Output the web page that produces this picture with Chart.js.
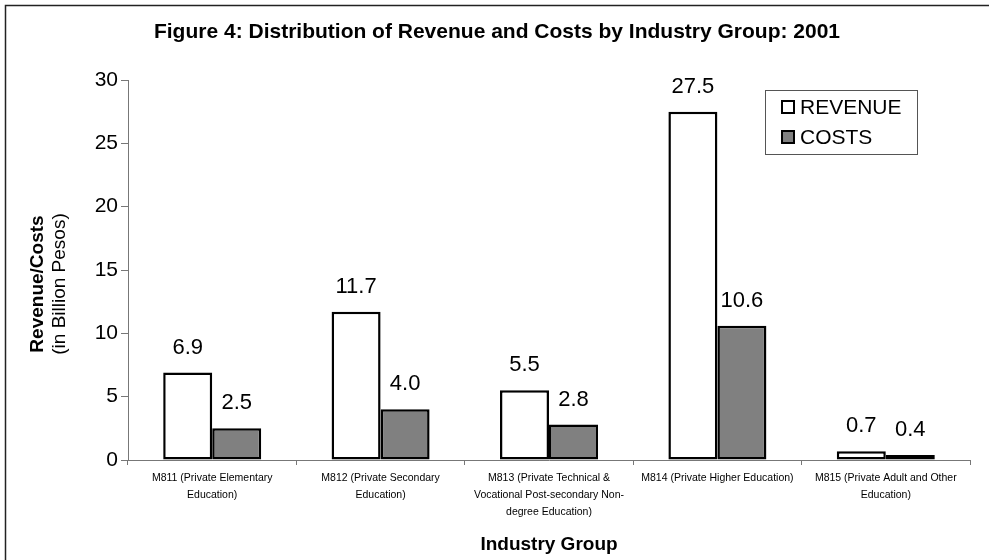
<!DOCTYPE html>
<html>
<head>
<meta charset="utf-8">
<script src="https://cdn.jsdelivr.net/npm/chart.js@4.4.0/dist/chart.umd.min.js"></script>
<style>
  html, body { margin: 0; padding: 0; background: #fff; overflow: hidden; }
  #wrap { position: relative; width: 989px; height: 560px; }
</style>
</head>
<body>
<div id="wrap"><canvas id="chart" width="989" height="560"></canvas></div>
<script>
  const categories = [
    ['M811 (Private Elementary', 'Education)'],
    ['M812 (Private Secondary', 'Education)'],
    ['M813 (Private Technical &', 'Vocational Post-secondary Non-', 'degree Education)'],
    ['M814 (Private Higher Education)'],
    ['M815 (Private Adult and Other', 'Education)'],
  ];
  const revenue = [6.9, 11.7, 5.5, 27.5, 0.7];
  const costs = [2.5, 4.0, 2.8, 10.6, 0.4];
  const seriesNames = ['REVENUE', 'COSTS'];
  const yMin = 0;
  const yMax = 30;
  const yStep = 5;

  const titleText = 'Figure 4: Distribution of Revenue and Costs by Industry Group: 2001';
  const xTitle = 'Industry Group';
  const yTitle = ['Revenue/Costs', '(in Billion Pesos)'];

  // outer frame, titles, value labels and legend
  const decorations = {
    id: 'decorations',
    beforeDraw(chart) {
      const ctx = chart.ctx;
      ctx.save();
      ctx.fillStyle = '#fff';
      ctx.fillRect(0, 0, chart.width, chart.height);
      ctx.strokeStyle = '#222';
      ctx.lineWidth = 1.5;
      ctx.strokeRect(5.5, 5.5, 1200, 1200);
      ctx.restore();
    },
    afterDraw(chart) {
      const ctx = chart.ctx;
      const area = chart.chartArea;
      ctx.save();
      ctx.fillStyle = '#000';
      ctx.textAlign = 'center';
      ctx.textBaseline = 'middle';

      ctx.font = 'bold 21px Arial, "Liberation Sans", sans-serif';
      ctx.fillText(titleText, 497, 32);

      ctx.font = 'bold 19px Arial, "Liberation Sans", sans-serif';
      ctx.fillText(xTitle, (area.left + area.right) / 2, 545);

      ctx.save();
      ctx.translate(38, 284);
      ctx.rotate(-Math.PI / 2);
      ctx.font = 'bold 19px Arial, "Liberation Sans", sans-serif';
      ctx.fillText(yTitle[0], 0, 0);
      ctx.font = '19px Arial, "Liberation Sans", sans-serif';
      ctx.fillText(yTitle[1], 0, 22);
      ctx.restore();

      // value labels over bars
      ctx.font = '22px Arial, "Liberation Sans", sans-serif';
      chart.data.datasets.forEach((ds, i) => {
        chart.getDatasetMeta(i).data.forEach((bar, j) => {
          ctx.fillText(ds.data[j].toFixed(1), bar.x, bar.y - 25);
        });
      });

      // legend box
      const lx = 765, ly = 90, lw = 152, lh = 64;
      ctx.font = '21px Arial, "Liberation Sans", sans-serif';
      ctx.strokeStyle = '#555';
      ctx.lineWidth = 1;
      ctx.strokeRect(lx + 0.5, ly + 0.5, lw, lh);
      ctx.textAlign = 'left';
      chart.data.datasets.forEach((ds, i) => {
        const cy = ly + 17 + i * 30;
        ctx.fillStyle = ds.backgroundColor;
        ctx.fillRect(lx + 16, cy - 7, 14, 14);
        ctx.strokeStyle = '#000';
        ctx.lineWidth = 2;
        ctx.strokeRect(lx + 17, cy - 6, 12, 12);
        ctx.fillStyle = '#000';
        ctx.fillText(ds.label, lx + 35, cy + 1);
      });
      ctx.restore();
    }
  };

  new Chart(document.getElementById('chart').getContext('2d'), {
    type: 'bar',
    data: {
      labels: categories,
      datasets: [
        {
          label: seriesNames[0],
          data: revenue,
          backgroundColor: '#ffffff',
          borderColor: '#000000',
          borderWidth: 2.5,
          borderSkipped: false,
        },
        {
          label: seriesNames[1],
          data: costs,
          backgroundColor: '#808080',
          borderColor: '#000000',
          borderWidth: 2.5,
          borderSkipped: false,
        },
      ],
    },
    options: {
      responsive: false,
      animation: false,
      categoryPercentage: 0.582,
      barPercentage: 1,
      layout: { padding: { left: 0, right: 19, top: 80, bottom: 0 } },
      plugins: {
        legend: { display: false },
        tooltip: { enabled: false },
      },
      scales: {
        x: {
          afterFit: (s) => { s.height = 100; },
          grid: {
            display: true,
            drawOnChartArea: false,
            offset: true,
            tickLength: 5,
            color: '#777',
          },
          border: { color: '#777', width: 1 },
          ticks: {
            color: '#000',
            padding: 5,
            maxRotation: 0,
            autoSkip: false,
            font: { family: 'Arial, "Liberation Sans", sans-serif', size: 10.5, lineHeight: '17px' },
          },
        },
        y: {
          min: yMin,
          max: yMax,
          afterFit: (s) => { s.width = 128; },
          grid: {
            display: true,
            drawOnChartArea: false,
            tickLength: 7,
            color: '#777',
          },
          border: { color: '#777', width: 1 },
          ticks: {
            stepSize: yStep,
            color: '#000',
            padding: 3,
            font: { family: 'Arial, "Liberation Sans", sans-serif', size: 21 },
          },
        },
      },
    },
    plugins: [decorations],
  });
</script>
</body>
</html>
